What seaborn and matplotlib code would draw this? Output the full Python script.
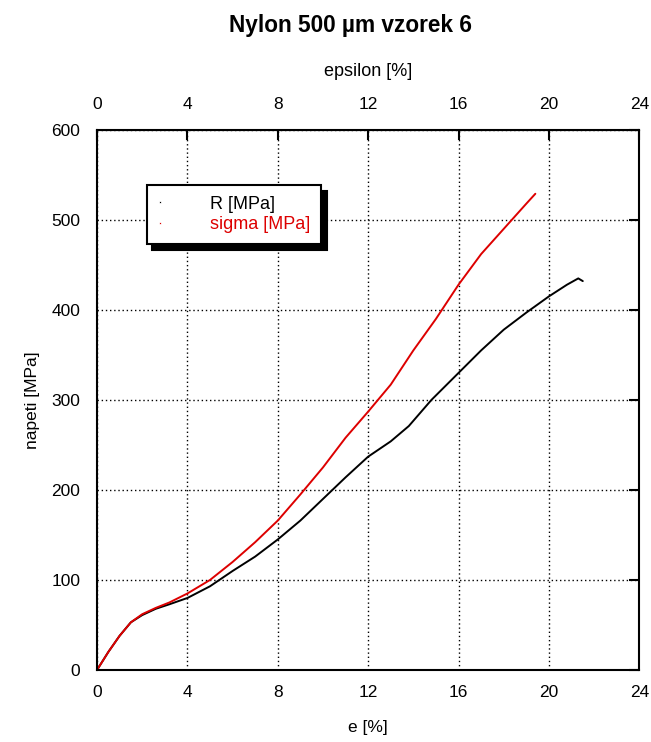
import pandas as pd
import matplotlib
matplotlib.use("Agg")
import matplotlib.pyplot as plt
import seaborn as sns

# data
e_R = [0, 0.5, 1.0, 1.5, 2.0, 2.6, 3.2, 4.0, 5.0, 6.0, 7.0, 8.0, 9.0, 10.0,
       11.0, 12.0, 13.0, 13.8, 14.8, 16.0, 17.0, 18.0, 19.0, 20.0, 20.8, 21.3, 21.5]
R_vals = [0, 20, 38, 53, 61, 68, 73, 80, 93, 110, 126, 145, 166, 190,
          214, 237, 254, 271, 300, 330, 355, 378, 397, 415, 428, 435, 432]

e_sigma = [0, 0.5, 1.0, 1.5, 2.0, 2.6, 3.2, 4.0, 5.0, 6.0, 7.0, 8.0, 9.0, 10.0,
           11.0, 12.0, 13.0, 14.0, 15.0, 16.0, 17.0, 18.0, 19.0, 19.4]
sigma_vals = [0, 20, 38, 53, 62, 69, 75, 85, 100, 120, 142, 166, 195, 225,
              258, 287, 317, 355, 390, 428, 462, 490, 518, 529]

x_ticks = [0, 4, 8, 12, 16, 20, 24]
y_ticks = [0, 100, 200, 300, 400, 500, 600]

sns.set_style("white")
plt.rcParams['font.family'] = ['Liberation Sans', 'DejaVu Sans']
plt.rcParams['text.color'] = 'black'
plt.rcParams['axes.labelcolor'] = 'black'

df_R = pd.DataFrame({'e': e_R, 'val': R_vals})
df_s = pd.DataFrame({'e': e_sigma, 'val': sigma_vals})

fig = plt.figure(figsize=(6.51, 7.42), dpi=100)
ax = fig.add_axes([0.149, 0.097, 0.833, 0.728])

sns.lineplot(data=df_R, x='e', y='val', sort=False, color='black', linewidth=1.4,
             ax=ax, label='R [MPa]')
sns.lineplot(data=df_s, x='e', y='val', sort=False, color='#dd0000', linewidth=1.4,
             ax=ax, label='sigma [MPa]')

ax.set_xlim(0, 24)
ax.set_ylim(0, 600)
ax.set_xticks(x_ticks)
ax.set_yticks(y_ticks)
ax.grid(True, color='black', linestyle=(0, (1, 2)), linewidth=1)
for s in ax.spines.values():
    s.set_color('black')
    s.set_linewidth(1.5)
ax.tick_params(direction='in', length=7, width=1.5, top=True, right=True,
               labelsize=12.5, colors='black')
ax.tick_params(axis='x', pad=11)
ax.tick_params(axis='y', pad=12)
ax.set_xlabel('e [%]', fontsize=12.5, labelpad=14)
ax.set_ylabel('napeti [MPa]', fontsize=12.5, labelpad=8)

top = ax.secondary_xaxis('top')
top.set_xticks(x_ticks)
top.tick_params(direction='in', length=0, labelsize=12.5, pad=13, colors='black')
top.set_xlabel('epsilon [%]', fontsize=13, labelpad=15)

fig.text(0.538, 0.966, 'Nylon 500 µm vzorek 6', fontsize=16.3, fontweight='bold',
         ha='center', va='center')

leg = ax.legend(loc='upper left', bbox_to_anchor=(0.092, 0.898), borderaxespad=0,
                fancybox=False,
                shadow={'ox': 4, 'oy': -4, 'color': 'black', 'alpha': 1},
                framealpha=1, edgecolor='black', fontsize=13,
                handlelength=0.3, handletextpad=2.6, borderpad=0.6,
                labelspacing=0.2)
leg.get_frame().set_linewidth(1.5)
# legend symbols are tiny dots in the original
for line in leg.get_lines():
    line.set_linestyle('none')
    line.set_marker('o')
    line.set_markersize(1.8)
for text, c in zip(leg.get_texts(), ['black', '#dd0000']):
    text.set_color(c)

fig.savefig('out.png', dpi=100)
